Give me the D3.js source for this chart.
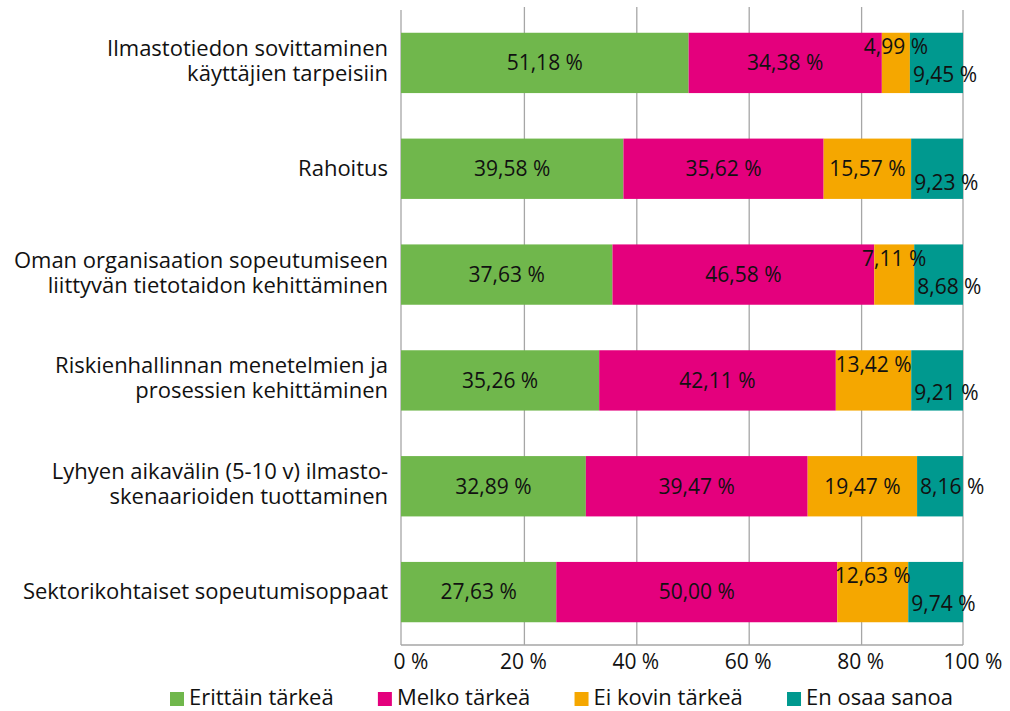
<!DOCTYPE html>
<html>
<head>
<meta charset="utf-8">
<script src="https://cdn.jsdelivr.net/npm/d3@7"></script>
<style>
body { margin: 0; background: #fff; }
svg { display: block; font-family: "Open Sans", "Noto Sans", sans-serif; }
</style>
</head>
<body>
<div id="chart"></div>
<script>
// data
let categories = [
    "Ilmastotiedon sovittaminen\nkäyttäjien tarpeisiin",
    "Rahoitus",
    "Oman organisaation sopeutumiseen\nliittyvän tietotaidon kehittäminen",
    "Riskienhallinnan menetelmien ja\nprosessien kehittäminen",
    "Lyhyen aikavälin (5-10 v) ilmasto-\nskenaarioiden tuottaminen",
    "Sektorikohtaiset sopeutumisoppaat"
];
let seriesNames = ["Erittäin tärkeä", "Melko tärkeä", "Ei kovin tärkeä", "En osaa sanoa"];
let erittain = [51.18, 39.58, 37.63, 35.26, 32.89, 27.63];
let melko = [34.38, 35.62, 46.58, 42.11, 39.47, 50.00];
let eiKovin = [4.99, 15.57, 7.11, 13.42, 19.47, 12.63];
let enOsaa = [9.45, 9.23, 8.68, 9.21, 8.16, 9.74];
let tickValues = [0, 20, 40, 60, 80, 100];
let colors = ["#70b74c", "#e4007d", "#f5a700", "#00998f"];

let width = 1010;
let height = 711;
let margin = {top: 10, right: 47, bottom: 66, left: 401};
let innerW = width - margin.left - margin.right;
let innerH = height - margin.top - margin.bottom;
let textColor = "#111";
let gridColor = "#a6a6a6";

let rows = categories.map((c, i) => ({
    cat: c, s0: erittain[i], s1: melko[i], s2: eiKovin[i], s3: enOsaa[i]
}));
let keys = ["s0", "s1", "s2", "s3"];
let stacked = d3.stack().keys(keys)(rows);

let fmt = v => d3.format(".2f")(v).replace(".", ",") + " %";

let svg = d3.select("#chart").append("svg")
    .attr("width", width)
    .attr("height", height);

let g = svg.append("g").attr("transform", `translate(${margin.left},${margin.top})`);

let x = d3.scaleLinear().domain([0, 100]).range([0, innerW]);
// inner gridlines sit slightly to the right in the original picture
let xGrid = d3.scaleLinear().domain([0, 100]).range([11, innerW + 11]);
let y = d3.scaleBand().domain(categories).range([0, innerH]).paddingInner(0.43).paddingOuter(0.215);

// gridlines + frame
g.selectAll("line.grid").data(tickValues.slice(1, -1)).enter().append("line")
    .attr("x1", d => xGrid(d)).attr("x2", d => xGrid(d))
    .attr("y1", -3).attr("y2", innerH)
    .attr("stroke", gridColor).attr("stroke-width", 1.3);
g.selectAll("line.edge").data([0, 100]).enter().append("line")
    .attr("x1", d => x(d)).attr("x2", d => x(d))
    .attr("y1", 0).attr("y2", innerH)
    .attr("stroke", gridColor).attr("stroke-width", 1.3);
g.append("line")
    .attr("x1", 0).attr("x2", innerW)
    .attr("y1", innerH).attr("y2", innerH)
    .attr("stroke", gridColor).attr("stroke-width", 1.3);

// bars
let layers = g.selectAll("g.layer").data(stacked).enter().append("g")
    .attr("fill", (d, i) => colors[i]);
layers.selectAll("rect").data(d => d).enter().append("rect")
    .attr("x", d => x(d[0]))
    .attr("y", d => y(d.data.cat))
    .attr("width", d => x(d[1]) - x(d[0]))
    .attr("height", y.bandwidth());

// data labels
let labelG = g.append("g")
    .attr("font-size", 21)
    .attr("fill", textColor);

rows.forEach((r, i) => {
    let cy = y(r.cat) + y.bandwidth() / 2;
    let texts = stacked.map((layer, k) => {
        let d = layer[i];
        let t = labelG.append("text")
            .attr("dy", "0.35em")
            .text(fmt(d[1] - d[0]));
        if (k < 3) {
            t.attr("x", (x(d[0]) + x(d[1])) / 2).attr("text-anchor", "middle");
        } else {
            t.attr("x", x(d[0]) + 3).attr("text-anchor", "start");
        }
        t.attr("y", cy);
        return t;
    });
    // simple collision handling between the last two labels
    let orangeBox = texts[2].node().getBBox();
    let tealBox = texts[3].node().getBBox();
    let gap = tealBox.x - (orangeBox.x + orangeBox.width);
    if (gap < 6) {
        texts[2].attr("y", cy - 16);
        texts[3].attr("y", cy + 12);
    } else if (gap < 12) {
        texts[3].attr("y", cy + 14);
    }
});

// category labels
let catG = g.append("g")
    .attr("font-size", 22)
    .attr("fill", textColor)
    .attr("text-anchor", "end");
categories.forEach(c => {
    let lines = c.split("\n");
    let cy = y(c) + y.bandwidth() / 2;
    let t = catG.append("text");
    lines.forEach((l, j) => {
        t.append("tspan")
            .attr("x", -13)
            .attr("y", cy + 7 - (lines.length - 1) * 14 + j * 25)
            .text(l);
    });
});

// x axis labels
g.append("g")
    .attr("font-size", 21)
    .attr("fill", textColor)
    .attr("text-anchor", "middle")
    .selectAll("text").data(tickValues).enter().append("text")
    .attr("x", d => x(d) + 10)
    .attr("y", innerH + 24)
    .text(d => d + " %");

// legend
let legend = svg.append("g")
    .attr("font-size", 22)
    .attr("fill", textColor);
let items = legend.selectAll("g").data(seriesNames).enter().append("g");
items.append("rect")
    .attr("width", 14).attr("height", 14)
    .attr("y", -13)
    .attr("fill", (d, i) => colors[i]);
items.append("text")
    .attr("x", 19)
    .text(d => d);
let widths = [];
items.each(function () { widths.push(this.getBBox().width); });
let legendLeft = 170;
let legendRight = 953;
let gapW = (legendRight - legendLeft - d3.sum(widths)) / (widths.length - 1);
let cursor = legendLeft;
items.attr("transform", (d, i) => {
    let tx = cursor;
    cursor += widths[i] + gapW;
    return `translate(${tx},705)`;
});
</script>
</body>
</html>
